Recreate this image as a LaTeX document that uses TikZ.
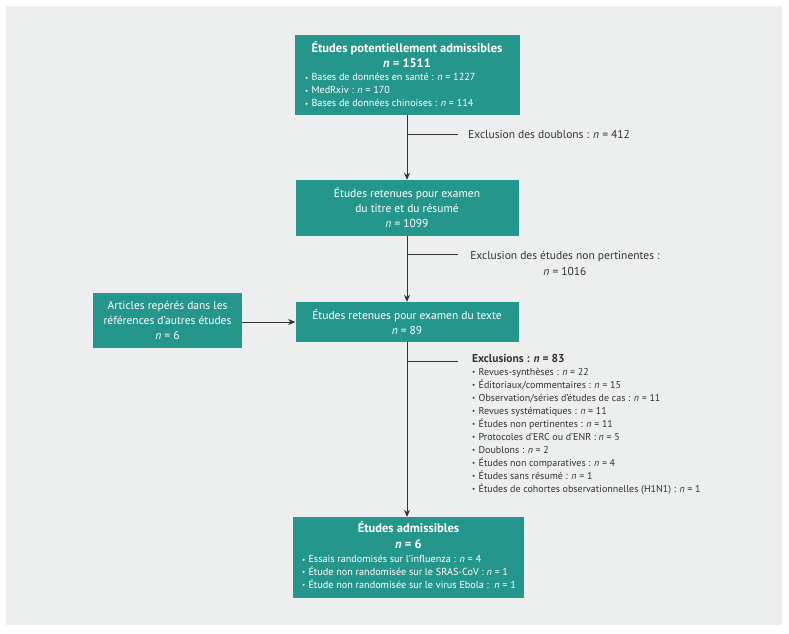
\documentclass[tikz,border=0pt]{standalone}
\usepackage{fontspec}
\setmainfont{PT Sans}
\usetikzlibrary{arrows.meta}
\definecolor{tealbox}{HTML}{25968B}
\definecolor{panelgray}{HTML}{EDEFEE}
\definecolor{ink}{HTML}{333333}
\newcommand\bul{\makebox[6.5pt][l]{\raisebox{0.6pt}{\fontsize{7}{7}\selectfont•}}}
\newcommand\titlef{\fontsize{12.5}{15}\selectfont\bfseries}
\newcommand\boxlistf{\fontsize{10.2}{13}\selectfont}
\newcommand\smallf{\fontsize{10}{13}\selectfont}
\begin{document}
\begin{tikzpicture}[x=1pt,y=-1pt,
  box/.style={fill=tealbox, draw=none, text=white, inner sep=0pt,
    font=\fontsize{11.5}{15}\selectfont, align=center},
  note/.style={inner sep=0pt, text=ink, font=\fontsize{11.5}{16.5}\selectfont},
  conn/.style={draw=ink, line width=0.8pt},
  arr/.style={conn, -{Stealth[length=7pt,width=6pt]}}]
\useasboundingbox (0,0) rectangle (789,633);
\fill[panelgray] (6,6) rectangle (782,625);

% boxes
\node[box, minimum width=225pt, minimum height=80pt] (b1) at (407,75)
 {\begin{minipage}{204pt}
  {\centering\titlef Études potentiellement admissibles\\ \textit{n} = 1511\par}
  \raggedright\boxlistf
  \mbox{\bul Bases de données en santé : \textit{n} = 1227}\\
  \mbox{\bul MedRxiv : \textit{n} = 170}\\
  \mbox{\bul Bases de données chinoises : \textit{n} = 114}\par\vspace{1.5pt}
 \end{minipage}};

\node[box, minimum width=223pt, minimum height=56pt] (b2) at (407,208)
 {Études retenues pour examen\\du titre et du résumé\\\textit{n} = 1099};

\node[box, minimum width=223pt, minimum height=40pt] (b3) at (407,322)
 {Études retenues pour examen du texte\\\textit{n} = 89};

\node[box, minimum width=149pt, minimum height=55pt] (bl) at (167.5,320.5)
 {Articles repérés dans les\\références d’autres études\\\textit{n} = 6};

\node[box, minimum width=231pt, minimum height=81pt] (b4) at (408.5,557.5)
 {\begin{minipage}{213pt}
  {\centering\fontsize{12.5}{16}\selectfont\bfseries Études admissibles\\ \textit{n} = 6\par}
  \vspace{1.5pt}
  \raggedright\fontsize{10.2}{12.7}\selectfont
  \mbox{\bul Essais randomisés sur l’influenza : \textit{n} = 4}\\
  \mbox{\bul Étude non randomisée sur le SRAS-CoV : \textit{n} = 1}\\
  \mbox{\bul Étude non randomisée sur le virus Ebola :\ \ \textit{n} = 1}\par
  \vspace{5pt}
 \end{minipage}};

% exclusion notes
\node[note, anchor=west] (e1) at (468,134) {Exclusion des doublons : \textit{n} = 412};
\node[note, align=center, anchor=north] (e2) at (565,251)
 {Exclusion des études non pertinentes :\\\textit{n} = 1016};
\node[note, anchor=north west, align=left] (e3) at (472,354)
 {\begin{minipage}{260pt}\raggedright
  {\fontsize{11.5}{13}\selectfont\bfseries Exclusions : \textit{n} = 83\par}
  \smallf
  \bul Revues-synthèses : \textit{n} = 22\\
  \bul Éditoriaux/commentaires : \textit{n} = 15\\
  \bul Observation/séries d’études de cas : \textit{n} = 11\\
  \bul Revues systématiques : \textit{n} = 11\\
  \bul Études non pertinentes : \textit{n} = 11\\
  \bul Protocoles d’ERC ou d’ENR : \textit{n} = 5\\
  \bul Doublons : \textit{n} = 2\\
  \bul Études non comparatives : \textit{n} = 4\\
  \bul Études sans résumé : \textit{n} = 1\\
  \bul Études de cohortes observationnelles (H1N1) : \textit{n} = 1
 \end{minipage}};

\coordinate (j1) at (458,134);
\coordinate (j2) at (458,254);
\coordinate (j3) at (458,361);

% connectors
\draw[arr] (b1.south) -- (b2.north);
\draw[arr] (b2.south) -- (b3.north);
\draw[arr] (b3.south) -- (b3.south |- b4.north);
\draw[arr] (bl.east |- b3.west) -- (b3.west);
\draw[conn] (b1.south |- j1) -- (j1);
\draw[conn] (b2.south |- j2) -- (j2);
\draw[conn] (b3.south |- j3) -- (j3);
\end{tikzpicture}
\end{document}
